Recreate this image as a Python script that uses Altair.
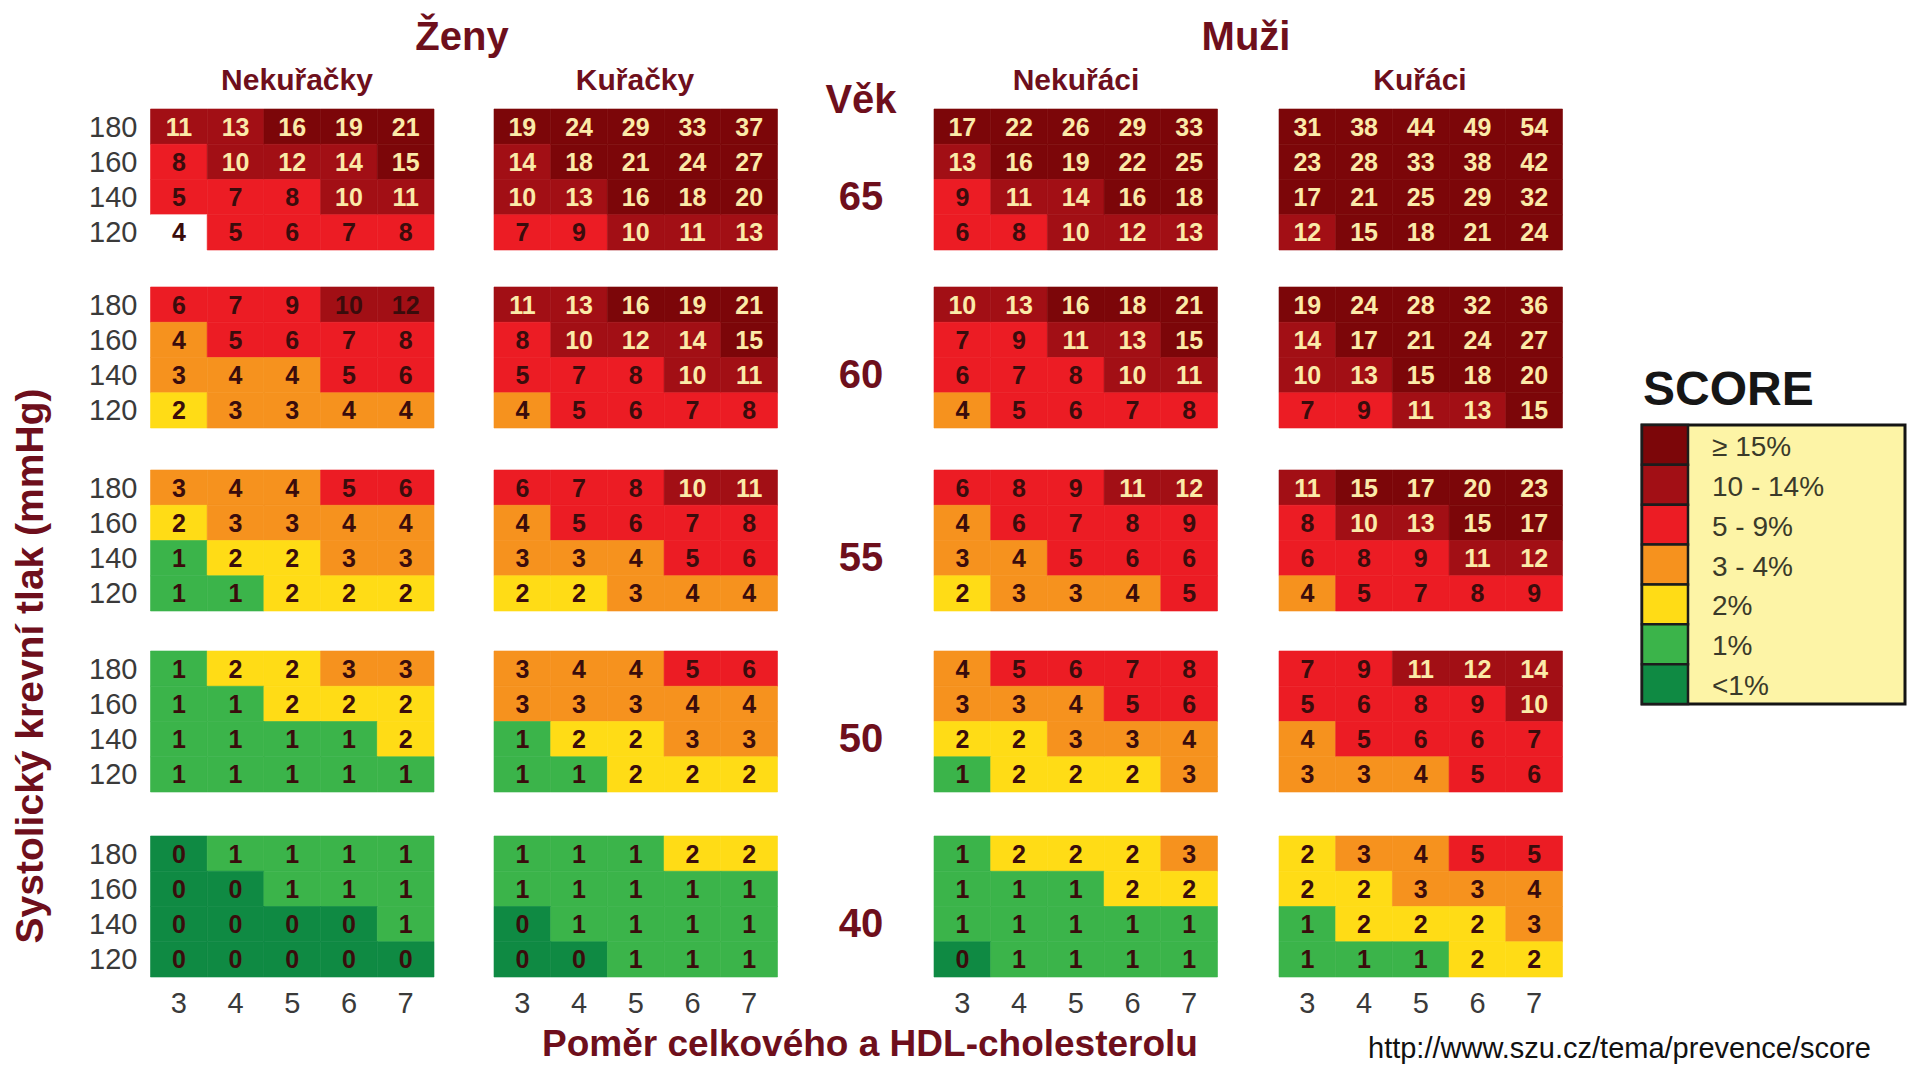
import altair as alt
import pandas as pd

# ---------------- data ----------------
ratios = [3, 4, 5, 6, 7]
pressures = [180, 160, 140, 120]
ages = [65, 60, 55, 50, 40]
sex_titles = ["Ženy", "Muži"]
panel_titles = ["Nekuřačky", "Kuřačky", "Nekuřáci", "Kuřáci"]
legend_labels = ["≥ 15%", "10 - 14%", "5 - 9%", "3 - 4%", "2%", "1%", "<1%"]

# each panel: one 4x5 block per age (rows = 180,160,140,120 ; cols = ratio 3..7)
women_nonsmokers = [
    [[11, 13, 16, 19, 21], [8, 10, 12, 14, 15], [5, 7, 8, 10, 11], [4, 5, 6, 7, 8]],
    [[6, 7, 9, 10, 12], [4, 5, 6, 7, 8], [3, 4, 4, 5, 6], [2, 3, 3, 4, 4]],
    [[3, 4, 4, 5, 6], [2, 3, 3, 4, 4], [1, 2, 2, 3, 3], [1, 1, 2, 2, 2]],
    [[1, 2, 2, 3, 3], [1, 1, 2, 2, 2], [1, 1, 1, 1, 2], [1, 1, 1, 1, 1]],
    [[0, 1, 1, 1, 1], [0, 0, 1, 1, 1], [0, 0, 0, 0, 1], [0, 0, 0, 0, 0]],
]
women_smokers = [
    [[19, 24, 29, 33, 37], [14, 18, 21, 24, 27], [10, 13, 16, 18, 20], [7, 9, 10, 11, 13]],
    [[11, 13, 16, 19, 21], [8, 10, 12, 14, 15], [5, 7, 8, 10, 11], [4, 5, 6, 7, 8]],
    [[6, 7, 8, 10, 11], [4, 5, 6, 7, 8], [3, 3, 4, 5, 6], [2, 2, 3, 4, 4]],
    [[3, 4, 4, 5, 6], [3, 3, 3, 4, 4], [1, 2, 2, 3, 3], [1, 1, 2, 2, 2]],
    [[1, 1, 1, 2, 2], [1, 1, 1, 1, 1], [0, 1, 1, 1, 1], [0, 0, 1, 1, 1]],
]
men_nonsmokers = [
    [[17, 22, 26, 29, 33], [13, 16, 19, 22, 25], [9, 11, 14, 16, 18], [6, 8, 10, 12, 13]],
    [[10, 13, 16, 18, 21], [7, 9, 11, 13, 15], [6, 7, 8, 10, 11], [4, 5, 6, 7, 8]],
    [[6, 8, 9, 11, 12], [4, 6, 7, 8, 9], [3, 4, 5, 6, 6], [2, 3, 3, 4, 5]],
    [[4, 5, 6, 7, 8], [3, 3, 4, 5, 6], [2, 2, 3, 3, 4], [1, 2, 2, 2, 3]],
    [[1, 2, 2, 2, 3], [1, 1, 1, 2, 2], [1, 1, 1, 1, 1], [0, 1, 1, 1, 1]],
]
men_smokers = [
    [[31, 38, 44, 49, 54], [23, 28, 33, 38, 42], [17, 21, 25, 29, 32], [12, 15, 18, 21, 24]],
    [[19, 24, 28, 32, 36], [14, 17, 21, 24, 27], [10, 13, 15, 18, 20], [7, 9, 11, 13, 15]],
    [[11, 15, 17, 20, 23], [8, 10, 13, 15, 17], [6, 8, 9, 11, 12], [4, 5, 7, 8, 9]],
    [[7, 9, 11, 12, 14], [5, 6, 8, 9, 10], [4, 5, 6, 6, 7], [3, 3, 4, 5, 6]],
    [[2, 3, 4, 5, 5], [2, 2, 3, 3, 4], [1, 2, 2, 2, 3], [1, 1, 1, 2, 2]],
]
panels = [women_nonsmokers, women_smokers, men_nonsmokers, men_smokers]

# cells shown unusually in the original picture (panel, age, pressure, ratio)
blank_cells = [(0, 65, 120, 3)]
dark_ink_cells = [(0, 60, 180, 6), (0, 60, 180, 7)]

# ---------------- style / layout ----------------
colors = ["#7c0609", "#a20f15", "#ec1c24", "#f6921e", "#ffdc16", "#3bb44a", "#0f8a43"]
MAROON = "#6e0f1c"
LIGHT_INK = "#fbeaa8"
DARK_INK = "#3a0c0c"
FONT = "Liberation Sans"

CW, CH = 56.7, 35.25
PANEL_X = [150.5, 494, 934, 1279]
GROUP_Y = [109, 287, 470, 651, 836]
W, H = 1899, 1058

XS = alt.Scale(domain=[8, 8 + W], nice=False, zero=False)
YS = alt.Scale(domain=[8, 8 + H], nice=False, zero=False, reverse=True)


def category(v):
    if v >= 15:
        return legend_labels[0]
    if v >= 10:
        return legend_labels[1]
    if v >= 5:
        return legend_labels[2]
    if v >= 3:
        return legend_labels[3]
    if v == 2:
        return legend_labels[4]
    if v == 1:
        return legend_labels[5]
    return legend_labels[6]


rows = []
for p, panel in enumerate(panels):
    for g, age in enumerate(ages):
        for r, sbp in enumerate(pressures):
            for c, ratio in enumerate(ratios):
                v = panel[g][r][c]
                key = (p, age, sbp, ratio)
                cat = "blank" if key in blank_cells else category(v)
                if key in blank_cells or key in dark_ink_cells or v < 10:
                    ink = DARK_INK
                else:
                    ink = LIGHT_INK
                x0 = PANEL_X[p] + c * CW
                y0 = GROUP_Y[g] + r * CH
                rows.append(dict(panel=panel_titles[p], age=age, sbp=sbp, ratio=ratio,
                                 value=v, cat=cat, ink=ink,
                                 x0=x0, x1=x0 + CW, y0=y0, y1=y0 + CH,
                                 xc=x0 + CW / 2, yc=y0 + CH / 2 + 1))
df = pd.DataFrame(rows)

color_scale = alt.Scale(domain=legend_labels + ["blank"], range=colors + ["#ffffff"])

cells = alt.Chart(df).mark_rect(strokeWidth=0.6).encode(
    x=alt.X("x0:Q", scale=XS, axis=None), x2="x1:Q",
    y=alt.Y("y0:Q", scale=YS, axis=None), y2="y1:Q",
    color=alt.Color("cat:N", scale=color_scale, legend=None),
    stroke=alt.Stroke("cat:N", scale=color_scale, legend=None),
    tooltip=["panel:N", "age:Q", "sbp:Q", "ratio:Q", "value:Q"],
)
cell_text = alt.Chart(df).mark_text(font=FONT, fontSize=25, fontWeight="bold",
                                    baseline="middle", align="center").encode(
    x=alt.X("xc:Q", scale=XS, axis=None),
    y=alt.Y("yc:Q", scale=YS, axis=None),
    text="value:Q",
    color=alt.Color("ink:N", scale=None),
)

# y tick labels (systolic pressure) per age block
ylab = pd.DataFrame([dict(t=str(s), x=PANEL_X[0] - 13, y=GROUP_Y[g] + (r + 0.5) * CH + 1)
                     for g in range(len(ages)) for r, s in enumerate(pressures)])
ytick = alt.Chart(ylab).mark_text(font=FONT, fontSize=29, color="#3a3a3a",
                                  align="right", baseline="middle").encode(
    x=alt.X("x:Q", scale=XS, axis=None), y=alt.Y("y:Q", scale=YS, axis=None), text="t:N")

# x tick labels (cholesterol ratio) per panel
xlab = pd.DataFrame([dict(t=str(rt), x=PANEL_X[p] + (c + 0.5) * CW, y=1004)
                     for p in range(len(panels)) for c, rt in enumerate(ratios)])
xtick = alt.Chart(xlab).mark_text(font=FONT, fontSize=29, color="#3a3a3a",
                                  align="center", baseline="middle").encode(
    x=alt.X("x:Q", scale=XS, axis=None), y=alt.Y("y:Q", scale=YS, axis=None), text="t:N")

# age labels
alab = pd.DataFrame([dict(t=str(a), x=861, y=GROUP_Y[g] + 2.5 * CH + 1) for g, a in enumerate(ages)])
agetext = alt.Chart(alab).mark_text(font=FONT, fontSize=40, fontWeight="bold", color=MAROON,
                                    align="center", baseline="middle").encode(
    x=alt.X("x:Q", scale=XS, axis=None), y=alt.Y("y:Q", scale=YS, axis=None), text="t:N")

# legend
LX0, LX1, LSW = 1642, 1905, 1688
LY0, LROW = 425, 39.86
leg = pd.DataFrame([dict(cat=l, y0=LY0 + i * LROW, y1=LY0 + (i + 1) * LROW,
                         yc=LY0 + (i + 0.5) * LROW + 3, x0=LX0, x1=LSW, xt=1712)
                    for i, l in enumerate(legend_labels)])
leg_box = alt.Chart(pd.DataFrame({"k": [0]})).mark_rect(
    fill="#fdf4a6", stroke="#141414", strokeWidth=3).encode(
    x=alt.value(LX0 - 8), x2=alt.value(LX1 - 8), y=alt.value(LY0 - 8), y2=alt.value(LY0 + 7 * LROW - 8))
leg_sw = alt.Chart(leg).mark_rect(stroke="#1c1c1c", strokeWidth=2.5).encode(
    x=alt.X("x0:Q", scale=XS, axis=None), x2="x1:Q",
    y=alt.Y("y0:Q", scale=YS, axis=None), y2="y1:Q",
    color=alt.Color("cat:N", scale=color_scale, legend=None))
leg_txt = alt.Chart(leg).mark_text(font=FONT, fontSize=28, color="#3a3a2a",
                                   align="left", baseline="middle").encode(
    x=alt.X("xt:Q", scale=XS, axis=None), y=alt.Y("yc:Q", scale=YS, axis=None), text="cat:N")


def label(text, x, y, size, color, weight="normal", align="center", angle=0, font=FONT):
    kw = dict(font=font, fontSize=size, fontWeight=weight, color=color, align=align,
              baseline="middle")
    if angle:
        kw["angle"] = angle
    return alt.Chart(pd.DataFrame({"t": [text]})).mark_text(**kw).encode(
        x=alt.value(x - 8), y=alt.value(y - 8), text="t:N")


titles = [
    label(sex_titles[0], 462, 38, 40, MAROON, "bold"),
    label(sex_titles[1], 1246, 38, 40, MAROON, "bold"),
    label(panel_titles[0], 297, 81, 30, MAROON, "bold"),
    label(panel_titles[1], 635, 81, 30, MAROON, "bold"),
    label(panel_titles[2], 1076, 81, 30, MAROON, "bold"),
    label(panel_titles[3], 1420, 81, 30, MAROON, "bold"),
    label("Věk", 861, 101, 40, MAROON, "bold"),
    label("Systolický krevní tlak (mmHg)", 31, 666, 39, MAROON, "bold", angle=270),
    label("Poměr celkového a HDL-cholesterolu", 870, 1045, 37, MAROON, "bold"),
    label("http://www.szu.cz/tema/prevence/score", 1368, 1049, 29, "#111111", align="left"),
    label("SCORE", 1643, 391, 48, "#161616", "bold", align="left"),
]

chart = alt.layer(cells, cell_text, ytick, xtick, agetext, leg_box, leg_sw, leg_txt, *titles).properties(
    width=W, height=H,
    autosize=alt.AutoSizeParams(type="none"),
    padding=0,
    background="#ffffff",
).configure_view(stroke=None)

chart.save("out.html", embed_options={"renderer": "svg", "actions": False})
